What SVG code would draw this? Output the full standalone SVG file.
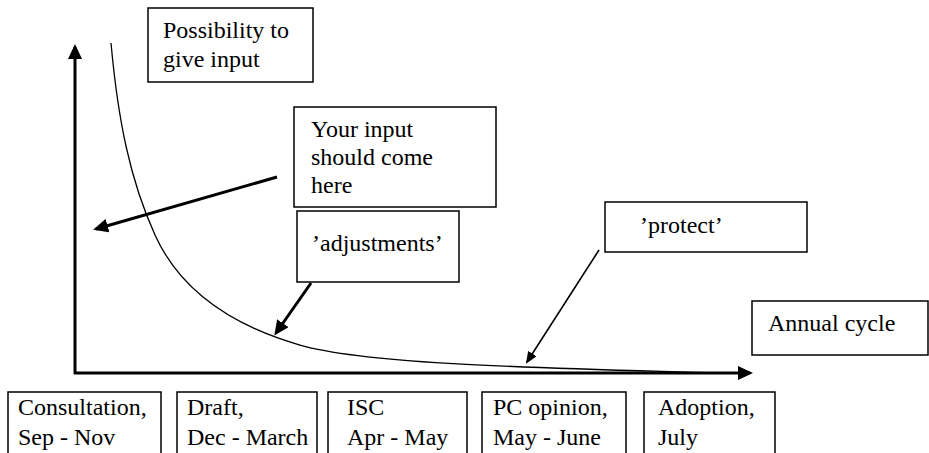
<svg xmlns="http://www.w3.org/2000/svg" width="929" height="453" viewBox="0 0 929 453">
<style>
  .box { fill: #ffffff; stroke: #000000; stroke-width: 1.5; }
  .lbl { font-size: 24px; fill: #000000; }
  .axis { stroke: #000000; stroke-width: 3; fill: none; }
  .thick { stroke: #000000; stroke-width: 3; fill: none; }
  .thin { stroke: #000000; stroke-width: 1.6; fill: none; }
  .curve { stroke: #000000; stroke-width: 1.3; fill: none; }
</style>
<defs>
  <marker id="ahBig" markerUnits="userSpaceOnUse" markerWidth="15" markerHeight="14" refX="12" refY="7" orient="auto">
    <path d="M0,0 L15,7 L0,14 z" fill="#000000"/>
  </marker>
  <marker id="ahSmall" markerUnits="userSpaceOnUse" markerWidth="12" markerHeight="10" refX="10" refY="5" orient="auto">
    <path d="M0,0 L12,5 L0,10 z" fill="#000000"/>
  </marker>
</defs>

<g id="connectors">
  <line id="y-axis" class="axis" x1="75" y1="374" x2="75" y2="47" marker-end="url(#ahBig)"/>
  <line id="x-axis" class="axis" x1="74" y1="373" x2="750" y2="373" marker-end="url(#ahBig)"/>
  <path id="curve" class="curve" d="M111,43 C118,120 130,180 155,235 C180,290 230,325 300,345 C370,365 550,368 716,373"/>
  <line id="arrow-input" class="thick" x1="277" y1="177" x2="96" y2="229" marker-end="url(#ahBig)"/>
  <line id="arrow-adjust" class="thick" x1="311" y1="283" x2="276" y2="333" marker-end="url(#ahBig)"/>
  <line id="arrow-protect" class="thin" x1="599" y1="250" x2="527" y2="362" marker-end="url(#ahSmall)"/>
</g>

<g font-family="'Liberation Serif', Tinos, 'Times New Roman', 'DejaVu Serif', serif">
<g id="node-possibility">
  <rect class="box" x="148" y="8" width="165" height="74"/>
  <text class="lbl" x="163" y="38">Possibility to</text>
  <text class="lbl" x="163" y="67">give input</text>
</g>

<g id="node-your-input">
  <rect class="box" x="294" y="107" width="202" height="100"/>
  <text class="lbl" x="311" y="137">Your input</text>
  <text class="lbl" x="311" y="165">should come</text>
  <text class="lbl" x="311" y="193">here</text>
</g>

<g id="node-adjustments">
  <rect class="box" x="297" y="211" width="162" height="71"/>
  <text class="lbl" x="312" y="251">’adjustments’</text>
</g>

<g id="node-protect">
  <rect class="box" x="605" y="202" width="202" height="50"/>
  <text class="lbl" x="640" y="233">’protect’</text>
</g>

<g id="node-annual">
  <rect class="box" x="752" y="301" width="176" height="54"/>
  <text class="lbl" x="768" y="331">Annual cycle</text>
</g>

<g id="node-consultation">
  <rect class="box" x="8" y="392" width="153" height="70"/>
  <text class="lbl" x="18" y="415">Consultation,</text>
  <text class="lbl" x="18" y="445">Sep - Nov</text>
</g>

<g id="node-draft">
  <rect class="box" x="177" y="392" width="140" height="70"/>
  <text class="lbl" x="187" y="415">Draft,</text>
  <text class="lbl" x="187" y="445">Dec - March</text>
</g>

<g id="node-isc">
  <rect class="box" x="328" y="392" width="139" height="70"/>
  <text class="lbl" x="347" y="415">ISC</text>
  <text class="lbl" x="347" y="445">Apr - May</text>
</g>

<g id="node-pc">
  <rect class="box" x="482" y="392" width="144" height="70"/>
  <text class="lbl" x="493" y="415">PC opinion,</text>
  <text class="lbl" x="493" y="445">May - June</text>
</g>

<g id="node-adoption">
  <rect class="box" x="644" y="392" width="131" height="70"/>
  <text class="lbl" x="658" y="415">Adoption,</text>
  <text class="lbl" x="658" y="445">July</text>
</g>
</g>
</svg>
